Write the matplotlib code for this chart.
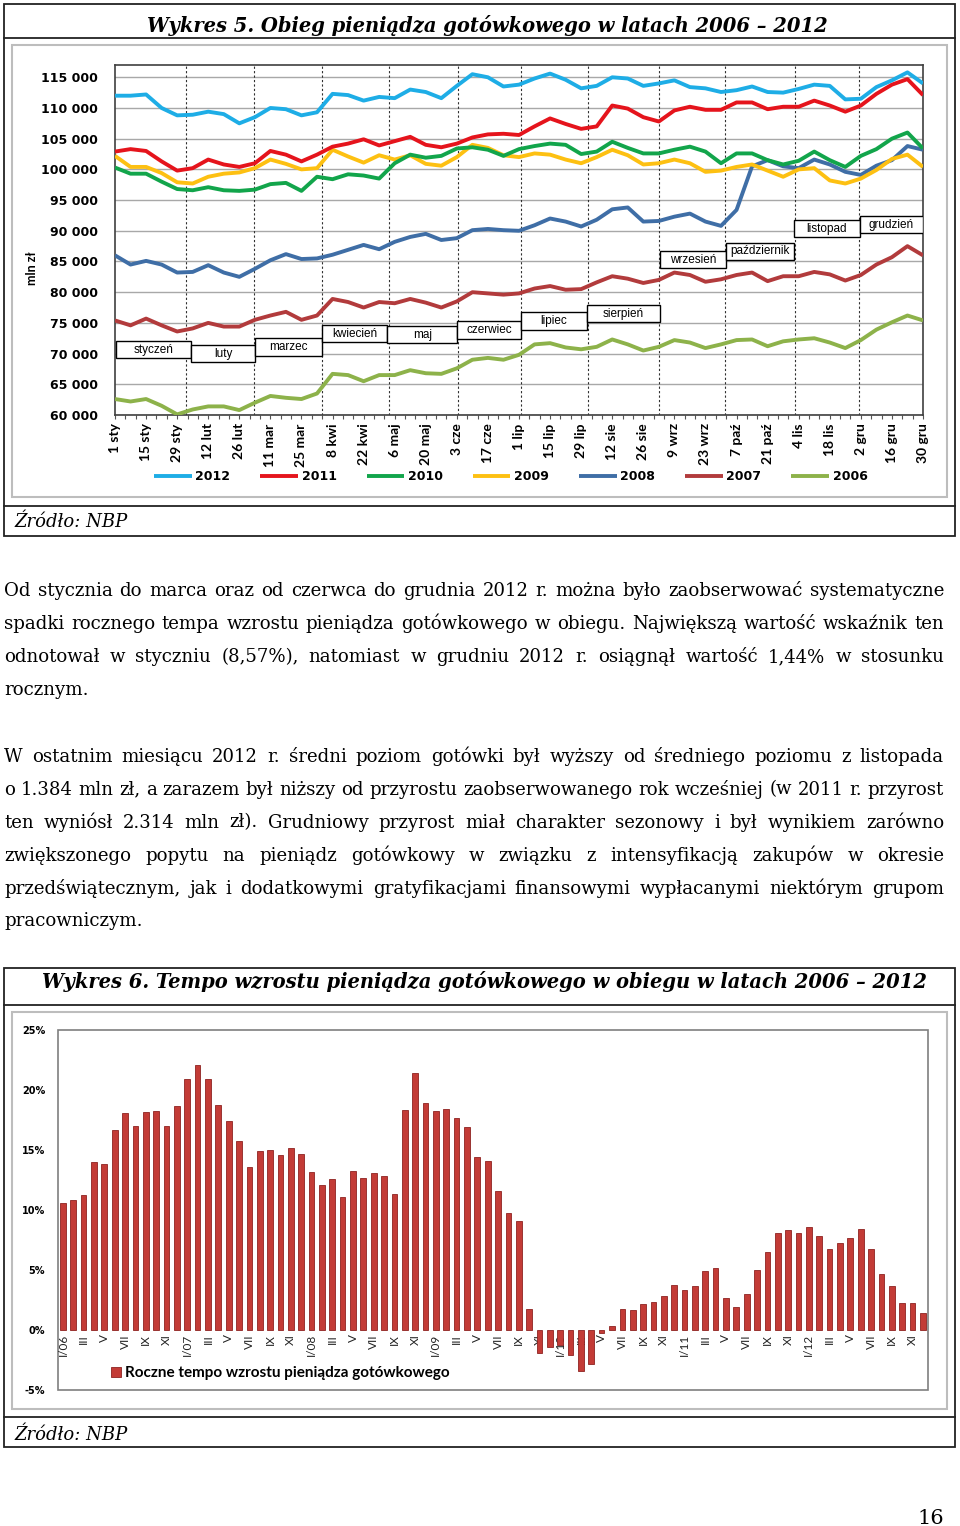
import numpy as np
import matplotlib
matplotlib.use("Agg")
import matplotlib.pyplot as plt
from matplotlib.patches import Rectangle
from matplotlib.lines import Line2D

W, H = 960, 1526

# ---------------- Wykres 5: daily cash in circulation (thousands of mln zł), sampled weekly
date_labels = ["1 sty", "15 sty", "29 sty", "12 lut", "26 lut", "11 mar", "25 mar", "8 kwi", "22 kwi",
               "6 maj", "20 maj", "3 cze", "17 cze", "1 lip", "15 lip", "29 lip", "12 sie", "26 sie",
               "9 wrz", "23 wrz", "7 paź", "21 paź", "4 lis", "18 lis", "2 gru", "16 gru", "30 gru"]
month_names = ["styczeń", "luty", "marzec", "kwiecień", "maj", "czerwiec", "lipiec", "sierpień",
               "wrzesień", "październik", "listopad", "grudzień"]
month_edges = [2.29, 4.48, 6.67, 8.83, 11.05, 13.05, 15.21, 17.49, 19.62, 21.87, 23.94]
box_edges = [0.03, 2.45, 4.51, 6.67, 8.76, 11.02, 13.08, 15.18, 17.53, 19.65, 21.84, 23.97, 26.0]
box_levels = [70660, 70010, 71070, 73260, 73100, 73830, 75300, 76520, 85300, 86690, 90350, 91000]

years = ["2012", "2011", "2010", "2009", "2008", "2007", "2006"]
colors = ["#1EADE6", "#E5141C", "#12A54B", "#FDC012", "#3F6EA6", "#B23B3C", "#8DB24A"]

s2012 = [112.0, 112.0, 112.2, 110.0, 108.8, 108.9, 109.4, 109.0, 107.5, 108.5, 110.0, 109.8,
         108.8, 109.3, 112.3, 112.1, 111.2, 111.8, 111.6, 113.0, 112.6, 111.6, 113.6, 115.5,
         115.0, 113.5, 113.8, 114.8, 115.6, 114.6, 113.2, 113.6, 115.0, 114.8, 113.6, 114.0,
         114.5, 113.4, 113.2, 112.6, 112.9, 113.5, 112.6, 112.5, 113.1, 113.8, 113.6, 111.4,
         111.5, 113.4, 114.5, 115.8, 114.0]
s2011 = [102.9, 103.3, 103.0, 101.3, 99.8, 100.2, 101.6, 100.8, 100.4, 101.0, 103.0, 102.4,
         101.3, 102.4, 103.7, 104.2, 104.9, 103.9, 104.6, 105.3, 104.0, 103.6, 104.2, 105.2,
         105.7, 105.8, 105.6, 107.0, 108.3, 107.4, 106.6, 107.0, 110.4, 109.9, 108.5, 107.8,
         109.6, 110.2, 109.7, 109.7, 110.9, 110.9, 109.8, 110.2, 110.2, 111.2, 110.4, 109.4,
         110.4, 112.3, 113.8, 114.7, 112.1]
s2010 = [100.3, 99.3, 99.3, 98.0, 96.8, 96.6, 97.1, 96.6, 96.5, 96.7, 97.6, 97.8,
         96.5, 98.8, 98.4, 99.2, 99.0, 98.5, 101.0, 102.4, 101.9, 102.2, 103.4, 103.6,
         103.2, 102.2, 103.3, 103.8, 104.2, 104.0, 102.5, 102.9, 104.5, 103.5, 102.6, 102.6,
         103.2, 103.7, 102.9, 101.0, 102.6, 102.6, 101.5, 100.8, 101.4, 102.9, 101.5, 100.4,
         102.2, 103.3, 105.0, 106.0, 103.4]
s2009 = [102.2, 100.4, 100.4, 99.4, 97.9, 97.7, 98.8, 99.3, 99.5, 100.2, 101.6, 100.9,
         100.0, 100.2, 103.2, 102.1, 101.1, 102.3, 101.6, 102.3, 100.9, 100.6, 102.0, 104.0,
         103.5, 102.3, 102.0, 102.6, 102.4, 101.6, 101.0, 102.0, 103.2, 102.3, 100.8, 101.0,
         101.6, 101.0, 99.6, 99.8, 100.4, 100.8, 99.8, 98.8, 100.0, 100.2, 98.2, 97.7,
         98.5, 99.9, 101.7, 102.4, 100.4]
s2008 = [86.0, 84.5, 85.1, 84.5, 83.2, 83.3, 84.4, 83.2, 82.5, 83.8, 85.2, 86.2,
         85.4, 85.5, 86.1, 86.9, 87.7, 87.0, 88.2, 89.0, 89.5, 88.5, 88.8, 90.1,
         90.3, 90.1, 90.0, 90.9, 92.0, 91.5, 90.7, 91.8, 93.5, 93.8, 91.5, 91.6,
         92.3, 92.8, 91.5, 90.8, 93.4, 100.5, 101.5, 100.5, 100.2, 101.6, 100.8, 99.6,
         99.1, 100.6, 101.5, 103.8, 103.2]
s2007 = [75.4, 74.6, 75.7, 74.6, 73.6, 74.1, 75.0, 74.4, 74.4, 75.5, 76.2, 76.8,
         75.5, 76.2, 78.9, 78.4, 77.5, 78.4, 78.2, 78.9, 78.3, 77.5, 78.5, 80.0,
         79.8, 79.6, 79.8, 80.6, 81.0, 80.4, 80.5, 81.6, 82.6, 82.2, 81.5, 82.0,
         83.2, 82.8, 81.7, 82.1, 82.8, 83.2, 81.8, 82.6, 82.6, 83.3, 82.9, 81.9,
         82.8, 84.5, 85.7, 87.5, 86.0]
s2006 = [62.6, 62.2, 62.6, 61.5, 60.1, 60.9, 61.4, 61.4, 60.8, 62.0, 63.1, 62.8,
         62.6, 63.5, 66.7, 66.5, 65.5, 66.5, 66.5, 67.3, 66.8, 66.7, 67.6, 69.0,
         69.3, 69.0, 69.8, 71.5, 71.7, 71.0, 70.7, 71.1, 72.3, 71.5, 70.5, 71.1,
         72.2, 71.8, 70.9, 71.5, 72.2, 72.3, 71.2, 72.0, 72.3, 72.5, 71.8, 70.9,
         72.2, 73.9, 75.1, 76.2, 75.4]
series = [s2012, s2011, s2010, s2009, s2008, s2007, s2006]

# ---------------- Wykres 6: annual growth rate (%), monthly I/06 .. XII/12
growth = [10.56, 10.8, 11.25, 14.0, 13.83, 16.7, 18.06, 17.0, 18.2, 18.28, 17.0, 18.67,
          20.94, 22.1, 20.94, 18.78, 17.39, 15.78, 13.56, 14.94, 15.0, 14.58, 15.17, 14.67,
          13.19, 12.08, 12.58, 11.11, 13.22, 12.69, 13.11, 12.83, 11.3, 18.3, 21.39, 18.94,
          18.22, 18.39, 17.69, 16.94, 14.44, 14.11, 11.58, 9.72, 9.08, 1.72, -1.94, -1.44,
          -1.25, -2.08, -3.39, -2.86, -0.28, 0.36, 1.72, 1.67, 2.17, 2.31, 2.81, 3.72,
          3.33, 3.67, 4.89, 5.17, 2.64, 1.92, 2.97, 5.03, 6.53, 8.06, 8.31, 8.11,
          8.57, 7.86, 6.75, 7.25, 7.67, 8.44, 6.75, 4.69, 3.67, 2.25, 2.22, 1.44]
bar_years = ["06", "07", "08", "09", "10", "11", "12"]
roman = ["I", "III", "V", "VII", "IX", "XI"]

para1 = ["Od stycznia do marca oraz od czerwca do grudnia 2012 r. można było zaobserwować systematyczne",
         "spadki rocznego tempa wzrostu pieniądza gotówkowego w obiegu. Największą wartość wskaźnik ten",
         "odnotował w styczniu (8,57%), natomiast w grudniu 2012 r. osiągnął wartość 1,44% w stosunku",
         "rocznym."]
para2 = ["W ostatnim miesiącu 2012 r. średni poziom gotówki był wyższy od średniego poziomu z listopada",
         "o 1.384 mln zł, a zarazem był niższy od przyrostu zaobserwowanego rok wcześniej (w 2011 r. przyrost",
         "ten wyniósł 2.314 mln zł). Grudniowy przyrost miał charakter sezonowy i był wynikiem zarówno",
         "zwiększonego popytu na pieniądz gotówkowy w związku z intensyfikacją zakupów w okresie",
         "przedświątecznym, jak i dodatkowymi gratyfikacjami finansowymi wypłacanymi niektórym grupom",
         "pracowniczym."]

SERIF = "DejaVu Serif"

fig = plt.figure(figsize=(W / 100, H / 100), dpi=100)
fig.patch.set_facecolor("white")
renderer = fig.canvas.get_renderer()


def fx(x):
    return x / W


def fy(y):
    return 1 - y / H


def frame(x0, y0, x1, y1, color="#222222", lw=1.3):
    fig.add_artist(Rectangle((fx(x0), fy(y1)), fx(x1) - fx(x0), fy(y0) - fy(y1),
                             transform=fig.transFigure, fill=False, ec=color, lw=lw))


def hline(y, x0, x1, color="#222222", lw=1.3):
    fig.add_artist(Line2D([fx(x0), fx(x1)], [fy(y), fy(y)], transform=fig.transFigure,
                          color=color, lw=lw))


def fit_size(text, width, **kw):
    t = fig.text(0, 0, text, fontsize=20, **kw)
    w = t.get_window_extent(renderer).width
    t.remove()
    return 20 * width / w


# ---------------- page frames
frame(4, 4, 955, 536)
hline(38, 4, 955)
hline(506, 4, 955)
frame(12, 45, 947, 497, color="#BDBDBD", lw=1.5)

frame(4, 968, 955, 1447)
hline(1005, 4, 955)
hline(1417, 4, 955)
frame(12, 1012, 947, 1409, color="#BDBDBD", lw=1.5)

title5 = "Wykres 5. Obieg pieniądza gotówkowego w latach 2006 – 2012"
title6 = "Wykres 6. Tempo wzrostu pieniądza gotówkowego w obiegu w latach 2006 – 2012"
tkw = dict(family=SERIF, weight="bold", style="italic")
sz5 = fit_size(title5, 680, **tkw)
sz6 = fit_size(title6, 886, **tkw)
fig.text(fx(147), fy(31.5), title5, fontsize=sz5, va="baseline", ha="left", **tkw)
fig.text(fx(42), fy(988), title6, fontsize=sz6, va="baseline", ha="left", **tkw)
fig.text(fx(14), fy(527), "Źródło: NBP", fontsize=13, family=SERIF, style="italic", va="baseline")
fig.text(fx(14), fy(1440), "Źródło: NBP", fontsize=13, family=SERIF, style="italic", va="baseline")
fig.text(fx(944), fy(1524), "16", fontsize=15, family=SERIF, ha="right", va="baseline")

# ---------------- Wykres 5
ax1 = fig.add_axes([fx(115), fy(415), (923 - 115) / W, (415 - 65) / H])
x = np.arange(len(s2012)) * 0.5
lines = []
for name, col, s in zip(years, colors, series):
    (ln,) = ax1.plot(x, np.array(s) * 1000, color=col, lw=2.8, solid_joinstyle="round",
                     solid_capstyle="butt", label=name)
    lines.append(ln)
for ln, z in zip(lines, range(10, 3, -1)):
    ln.set_zorder(z)

ax1.set_xlim(0, 26)
ax1.set_ylim(60000, 117000)
yt = np.arange(60000, 115001, 5000)
ax1.set_yticks(yt)
ax1.set_yticklabels([f"{v:,}".replace(",", " ") for v in yt], family="DejaVu Sans",
                    weight="bold", fontsize=9)
ax1.yaxis.grid(True, color="#A8A8A8", lw=1)
ax1.set_axisbelow(True)
ax1.tick_params(axis="y", length=0, pad=12)
ax1.set_xticks(range(len(date_labels)))
ax1.set_xticklabels(date_labels, rotation=90, family="Lato", weight="bold", fontsize=10)
ax1.set_xticks(np.arange(0, 26.01, 1 / 3), minor=True)
ax1.tick_params(axis="x", which="both", length=3, width=0.8, color="#555555", pad=3)
for s in ax1.spines.values():
    s.set_color("#404040")
    s.set_linewidth(1.2)
for e in month_edges:
    ax1.axvline(e, color="#303030", lw=0.8, ls=(0, (2, 2)), zorder=2)
for name, a, b, lvl in zip(month_names, box_edges[:-1], box_edges[1:], box_levels):
    ax1.add_patch(Rectangle((a, lvl - 1400), b - a, 2800, fc="white", ec="black", lw=1, zorder=20))
    ax1.text((a + b) / 2, lvl, name, ha="center", va="center", fontsize=8.5,
             family="Liberation Sans", zorder=21)
fig.text(fx(32), fy(268), "mln zł", rotation=90, ha="center", va="center",
         family="Lato", weight="bold", fontsize=9)
ax1.legend(handles=lines, loc="center", bbox_to_anchor=(0.49, -0.177), ncol=7, frameon=False,
           prop=dict(family="DejaVu Sans", weight="bold", size=9), handlelength=3.0,
           columnspacing=2.4, handletextpad=0.3)

# ---------------- Wykres 6
ax2 = fig.add_axes([fx(57.7), fy(1390), (928 - 57.7) / W, 360 / H])
bar_labels = []
for yy in bar_years:
    bar_labels += [f"I/{yy}"] + roman[1:]
ax2.bar(np.arange(len(growth)), growth, width=0.55, color="#C33B36", edgecolor="#8E2321",
        lw=0.6, label="Roczne tempo wzrostu pieniądza gotówkowego", zorder=2)
ax2.set_xlim(-0.5, len(growth) - 0.5)
ax2.set_ylim(-5, 25)
yt2 = np.arange(-5, 26, 5)
ax2.set_yticks(yt2)
ax2.set_yticklabels([f"{v}%" for v in yt2], family="DejaVu Sans", weight="bold", fontsize=7)
ax2.tick_params(axis="y", length=0, pad=9)
ax2.spines["bottom"].set_position(("data", 0))
for s in ax2.spines.values():
    s.set_visible(False)
ax2.set_xticks(np.arange(0, len(growth), 2))
ax2.set_xticklabels(bar_labels, rotation=90, family="Lato", fontsize=8.5, color="#222222")
ax2.tick_params(axis="x", length=0, pad=3)
for t in ax2.get_xticklabels():
    t.set_zorder(5)
ax2.add_patch(Rectangle((0, 0), 1, 1, transform=ax2.transAxes, fill=False, ec="#7F7F7F",
                        lw=1.2, clip_on=False))
ax2.legend(loc="center left", bbox_to_anchor=(0.046, 0.047), frameon=False,
           prop=dict(family="Lato", weight="bold", size=11), handlelength=0.6,
           handleheight=0.6, handletextpad=0.3)

# ---------------- body text (justified)
body_size = fit_size(para2[1], 940, family=SERIF)


def put_line(y, text, justify):
    if not justify:
        fig.text(fx(4), fy(y), text, fontsize=body_size, family=SERIF, va="baseline")
        return
    words = text.split()
    arts = [fig.text(0, fy(y), w, fontsize=body_size, family=SERIF, va="baseline") for w in words]
    widths = [a.get_window_extent(renderer).width for a in arts]
    gap = (940 - sum(widths)) / (len(words) - 1)
    pos = 4
    for a, w in zip(arts, widths):
        a.set_x(fx(pos))
        pos += w + gap


for i, line in enumerate(para1):
    put_line(596 + 33 * i, line, i < len(para1) - 1)
for i, line in enumerate(para2):
    put_line(761.5 + 33 * i, line, i < len(para2) - 1)

fig.savefig("out.png", dpi=100)
